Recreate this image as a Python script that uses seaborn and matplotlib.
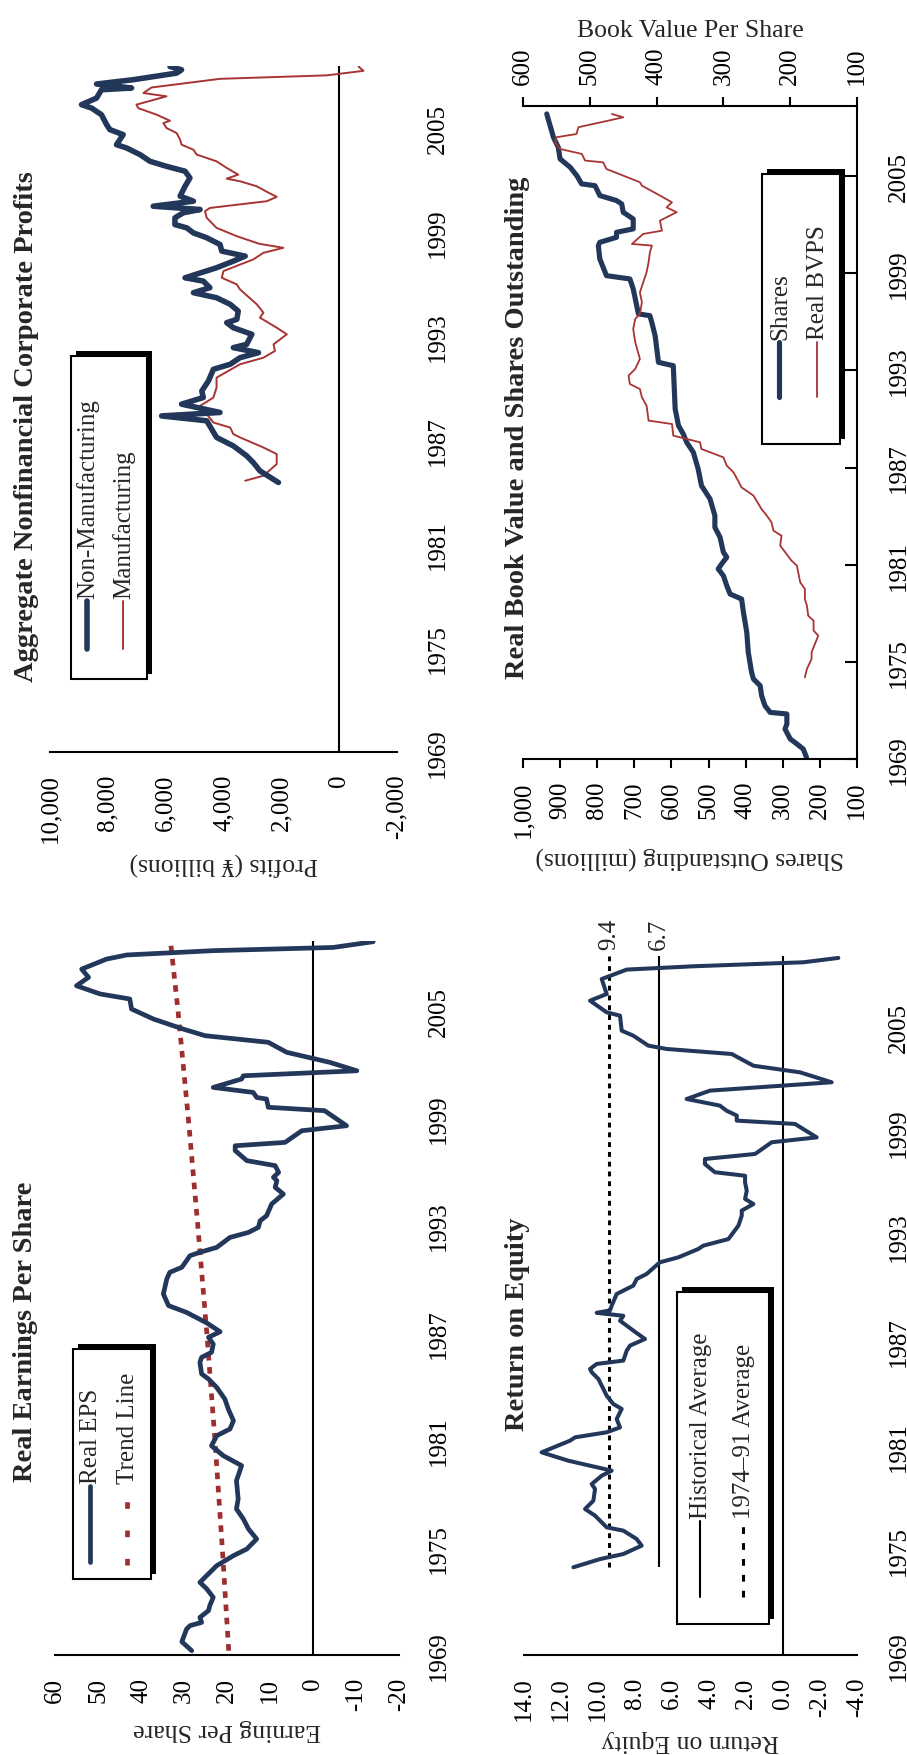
import matplotlib
matplotlib.use("Agg")
import matplotlib.pyplot as plt
import seaborn as sns
from matplotlib.patches import Rectangle
from matplotlib.lines import Line2D

# ---------------- data ----------------
year_ticks = [1969, 1975, 1981, 1987, 1993, 1999, 2005]

# Aggregate nonfinancial corporate profits (yen billions)
nonmfg_years = [1984.55, 1985.22, 1985.70, 1986.09, 1986.66, 1987.15, 1988.11, 1988.39, 1988.59, 1989.07,
                1989.45, 1989.83, 1990.41, 1991.08, 1991.37, 1991.75, 1992.04, 1992.33, 1992.52, 1993.10,
                1993.48, 1993.77, 1993.96, 1994.44, 1994.83, 1995.21, 1995.50, 1995.79, 1996.17, 1996.36,
                1996.94, 1997.32, 1997.61, 1997.90, 1998.28, 1998.67, 1998.95, 1999.24, 1999.43, 1999.82,
                2000.11, 2000.30, 2000.49, 2000.78, 2001.07, 2001.64, 2002.12, 2002.51, 2002.79, 2003.08,
                2003.47, 2003.85, 2004.04, 2004.62, 2004.91, 2005.19, 2005.77, 2006.15, 2006.35, 2006.73,
                2007.21, 2007.31, 2007.54, 2007.79, 2008.17, 2008.36, 2008.55]
nonmfg_vals = [2100, 2740, 2970, 3200, 3660, 4240, 4580, 6140, 4120, 5450,
               4700, 4750, 4520, 4350, 3770, 3430, 2790, 3660, 3200, 3020,
               3660, 3890, 3540, 3490, 3770, 4240, 5040, 4470, 4700, 5330,
               4240, 3660, 3250, 4060, 4120, 4580, 5040, 5270, 5680, 5680,
               5390, 4810, 6430, 5040, 5500, 5330, 5160, 5330, 5970, 6540,
               6890, 7350, 7700, 7470, 7930, 8040, 8220, 8560, 8910, 8390,
               8220, 7180, 8390, 7120, 5620, 5450, 5850]
mfg_years = [1984.65, 1984.94, 1985.61, 1986.19, 1986.57, 1987.15, 1987.34, 1987.72, 1988.01, 1988.49,
             1988.97, 1989.45, 1990.03, 1990.60, 1991.37, 1991.75, 1992.14, 1992.52, 1993.10, 1993.48,
             1994.06, 1994.35, 1994.83, 1995.69, 1995.98, 1996.36, 1996.75, 1997.42, 1997.80, 1998.09,
             1998.32, 1998.76, 1999.24, 1999.82, 2000.20, 2000.39, 2000.78, 2001.03, 2001.32, 2001.64,
             2001.93, 2002.08, 2002.31, 2002.70, 2003.08, 2003.47, 2003.75, 2004.04, 2004.33, 2004.71,
             2005.00, 2005.29, 2005.42, 2005.77, 2006.15, 2006.35, 2006.83, 2007.02, 2007.34, 2007.84,
             2008.04, 2008.30, 2008.55]
mfg_vals = [3250, 2620, 2160, 2160, 2620, 3430, 3660, 3770, 4350, 4580,
            4810, 4350, 4240, 4240, 3430, 2620, 2220, 2270, 1810, 2160,
            2740, 2620, 2850, 3430, 3540, 4060, 4000, 2970, 2620, 1930,
            2760, 3540, 4240, 4580, 4640, 4470, 2500, 2160, 2500, 2850,
            3430, 3890, 3490, 3890, 4240, 4930, 5040, 5450, 5500, 5620,
            5970, 6080, 5850, 6310, 6950, 7010, 5970, 6770, 6490, 4120,
            430, -840, -670]

# Real book value per share and shares outstanding
shares_years = [1969.10, 1969.62, 1969.93, 1970.24, 1970.85, 1971.16, 1971.78, 1971.88, 1972.29, 1972.91,
                1973.53, 1973.94, 1974.35, 1975.59, 1976.82, 1978.06, 1978.88, 1979.19, 1979.71, 1980.32,
                1980.74, 1981.04, 1981.46, 1981.77, 1982.69, 1983.31, 1984.03, 1985.06, 1985.88, 1986.91,
                1987.94, 1988.56, 1989.07, 1989.59, 1990.62, 1993.29, 1993.50, 1995.15, 1995.97, 1996.38,
                1996.49, 1998.03, 1998.65, 1998.85, 1999.88, 2000.71, 2000.91, 2001.22, 2001.53, 2001.74,
                2002.35, 2002.77, 2003.28, 2003.49, 2003.80, 2004.41, 2004.52, 2005.03, 2005.55, 2006.06,
                2006.78, 2007.40, 2008.12, 2008.84]
shares_vals = [236, 245, 262, 280, 294, 289, 289, 334, 348, 357,
               361, 379, 384, 393, 397, 406, 411, 442, 451, 460,
               474, 465, 451, 460, 469, 483, 483, 496, 519, 528,
               541, 559, 568, 581, 590, 595, 635, 644, 653, 658,
               689, 703, 712, 775, 793, 797, 793, 748, 748, 703,
               703, 730, 734, 748, 793, 806, 842, 855, 873, 900,
               905, 918, 927, 936]
bvps_years = [1974.04, 1974.56, 1975.18, 1975.59, 1976.62, 1976.93, 1977.54, 1977.85, 1978.47, 1978.88,
              1979.50, 1979.91, 1980.94, 1981.25, 1982.18, 1982.79, 1983.10, 1983.62, 1984.03, 1984.44,
              1985.27, 1985.78, 1986.19, 1986.71, 1987.12, 1987.63, 1988.15, 1988.56,
              1988.97, 1989.69, 1989.90, 1990.82, 1991.34, 1991.85, 1992.16, 1992.68, 1993.09, 1993.71,
              1994.74, 1995.56, 1996.18, 1996.49, 1997.21, 1997.82, 1998.44, 1999.06, 1999.68, 2000.30,
              2000.71, 2000.81, 2001.43, 2001.63, 2002.25, 2002.77, 2003.07, 2003.38, 2003.80, 2004.41,
              2004.62, 2005.44, 2005.85, 2005.96, 2006.37, 2006.68, 2007.09, 2007.40, 2007.60, 2008.02,
              2008.63, 2008.84]
bvps_vals = [178, 175, 168, 168, 158, 165, 165, 173, 175, 178,
             178, 185, 190, 198, 215, 213, 225, 228, 235, 243,
             255, 273, 278, 285, 295, 300, 333, 335,
             375, 377, 412, 415, 422, 425, 440, 442, 432, 425,
             432, 435, 432, 425, 422, 425, 420, 415, 412, 410,
             407, 437, 420, 392, 395, 370, 385, 377, 395, 422,
             425, 475, 480, 507, 512, 545, 552, 550, 520, 517,
             450, 467]

# Real earnings per share
eps_years = [1969.24, 1969.74, 1970.45, 1970.64, 1970.82, 1971.10, 1971.48, 1971.76, 1972.22, 1972.69,
             1973.06, 1973.99, 1974.55, 1974.92, 1975.48, 1976.04, 1976.60, 1977.16, 1977.72, 1978.74,
             1979.58, 1980.14, 1980.69, 1981.25, 1981.63, 1982.09, 1982.74, 1983.30, 1983.95, 1984.42,
             1984.70, 1985.35, 1985.63, 1985.91, 1986.37, 1986.75, 1987.06, 1987.55, 1988.14, 1988.52,
             1989.17, 1990.01, 1990.38, 1990.66, 1991.31, 1991.50, 1991.77, 1992.33, 1992.61, 1992.89,
             1993.26, 1993.54, 1994.20, 1994.75, 1995.13, 1995.50, 1995.69, 1995.96, 1996.34, 1996.62,
             1997.18, 1997.45, 1997.64, 1998.29, 1998.57, 1999.41, 1999.60, 2000.06, 2000.15, 2000.43,
             2000.71, 2001.18, 2001.36, 2001.64, 2002.11, 2002.67, 2003.23, 2003.60, 2003.97, 2004.53,
             2005.09, 2005.65, 2005.93, 2006.39, 2006.86, 2007.32, 2007.88, 2008.11, 2008.35, 2008.53,
             2008.85]
eps_vals = [28.2, 30.5, 29.4, 28.6, 25.9, 26.3, 24.3, 24.0, 23.2, 24.7,
            26.3, 22.4, 18.5, 15.4, 13.1, 15.0, 16.2, 17.8, 17.4, 17.8,
            16.6, 20.9, 23.6, 22.4, 19.3, 18.5, 19.7, 20.5, 22.4, 24.3,
            25.9, 26.3, 25.9, 23.6, 23.2, 24.3, 21.6, 24.7, 29.4, 33.6,
            34.8, 34.0, 33.3, 30.5, 28.6, 26.3, 22.4, 19.3, 15.0, 12.7,
            12.3, 10.8, 9.6, 6.9, 8.8, 8.4, 9.2, 8.0, 8.8, 15.4,
            18.1, 18.1, 6.5, 2.6, -7.8, -2.7, 10.4, 10.8, 13.1, 13.9,
            23.2, 16.6, 16.2, -10.2, -3.9, 6.1, 10.4, 25.1, 30.2, 37.1,
            42.2, 42.6, 49.5, 55.0, 52.2, 53.8, 48.0, 43.3, 23.2, -4.7,
            -14.0]
trend_years = [1969.24, 1975.0, 1981.0, 1987.0, 1993.0, 1999.0, 2005.0, 2008.78]
trend_vals = [19.6, 21.1, 22.8, 24.7, 26.8, 29.0, 31.4, 33.1]

# Return on equity
roe_years = [1974.03, 1974.50, 1974.79, 1975.27, 1975.65, 1976.13, 1976.32, 1976.99, 1977.37, 1977.85,
             1978.52, 1978.80, 1979.28, 1979.57, 1980.14, 1980.62, 1981.29, 1981.48, 1981.77, 1982.05,
             1982.53, 1983.11, 1983.39, 1983.87, 1984.83, 1985.21, 1985.40, 1985.69, 1985.88, 1986.45,
             1986.74, 1987.12, 1987.60, 1988.17, 1988.45, 1988.62, 1988.76, 1989.03, 1989.70, 1990.18,
             1990.56, 1990.85, 1991.52, 1991.80, 1992.28, 1992.47, 1992.85, 1993.62, 1994.19, 1994.48,
             1994.86, 1995.15, 1995.62, 1996.10, 1996.48, 1996.68, 1997.15, 1997.44, 1997.73, 1998.40,
             1998.68, 1999.45, 1999.64, 1999.93, 2000.21, 2000.50, 2000.88, 2001.36, 2001.84, 2002.41,
             2002.79, 2003.46, 2003.75, 2003.94, 2004.51, 2004.80, 2005.66, 2005.85, 2006.52, 2006.90,
             2007.76, 2008.30, 2008.49, 2008.72, 2008.97]
roe_vals = [11.33, 9.89, 8.63, 7.64, 7.91, 8.63, 9.53, 10.16, 10.70, 10.25,
            10.16, 10.34, 9.80, 9.26, 11.60, 13.05, 11.51, 11.24, 9.53, 8.81,
            8.99, 8.72, 9.17, 9.53, 9.98, 10.34, 10.43, 10.07, 8.63, 8.45,
            8.27, 7.46, 8.09, 8.81, 8.63, 10.07, 9.35, 9.26, 8.99, 8.09,
            7.91, 7.37, 6.65, 5.66, 4.58, 4.31, 2.95, 2.41, 2.23, 2.23,
            1.60, 2.05, 1.96, 2.05, 2.05, 3.68, 4.22, 4.22, 1.51, 0.61,
            -1.82, -0.65, 2.50, 2.50, 3.05, 3.41, 5.21, 3.95, -2.63, -0.92,
            1.60, 2.77, 6.29, 7.28, 8.09, 8.72, 8.81, 9.53, 10.43, 9.53,
            9.80, 8.45, 4.85, -1.10, -2.99]
hist_avg = 6.7
sub_avg = 9.4
avg_start = 1974.03

# ---------------- style ----------------
sns.set_style("white")
plt.rcParams['font.family'] = ['Liberation Serif', 'DejaVu Serif']
plt.rcParams['axes.unicode_minus'] = False
plt.rcParams['lines.solid_joinstyle'] = 'round'
plt.rcParams['lines.solid_capstyle'] = 'round'
plt.rcParams['lines.dash_capstyle'] = 'butt'

NAVY = '#23375A'
RED = '#A83434'
DRED = '#9E2F2F'
FS = 18
TFS = 20.5

W, H = 907, 1756
fig = plt.figure(figsize=(W / 100, H / 100), dpi=100)
fig.patch.set_facecolor('white')


def box(l, t, r, b):
    return [l / W, 1 - b / H, (r - l) / W, (b - t) / H]


def fx(x):
    return x / W


def fy(y):
    return 1 - y / H


def spines(ax, visible):
    for name, s in ax.spines.items():
        s.set_visible(name in visible)
        s.set_linewidth(1.5)
        s.set_color('black')


def time_axis(ax, top, pad, ticks_in=False):
    ax.set_ylim(1969, top)
    ax.yaxis.tick_right()
    ax.set_yticks(year_ticks)
    ax.set_yticklabels([str(y) for y in year_ticks])
    if ticks_in:
        ax.tick_params(axis='y', right=True, left=False, direction='in', length=9, width=1.5,
                       pad=pad, labelsize=FS, labelrotation=90, colors='black')
    else:
        ax.tick_params(axis='y', right=True, left=False, length=0, pad=pad,
                       labelsize=FS, labelrotation=90, colors='black')
    for tl in ax.get_yticklabels():
        tl.set_va('center')
        tl.set_ha('left')
    ax.set_ylabel('')


def value_axis(ax, lim, ticks, fmt, label, labelpad=6, where='bottom'):
    ax.set_xlim(*lim)
    ax.set_xticks(ticks)
    ax.set_xticklabels([fmt(t) for t in ticks])
    ax.tick_params(axis='x', direction='out', length=6.5, width=1.5, pad=9,
                   labelsize=FS, labelrotation=90, colors='black')
    if where == 'bottom':
        ax.set_xlabel(label, fontsize=18.5, rotation=180, labelpad=labelpad)
    else:
        ax.set_xlabel(label, fontsize=18.5, labelpad=labelpad)


def legend_box(l, t, r, b, entries):
    fig.add_artist(Rectangle((fx(l + 5), fy(b - 5)), (r - l) / W, (b - t) / H,
                             transform=fig.transFigure, facecolor='black', edgecolor='black', lw=0))
    fig.add_artist(Rectangle((fx(l), fy(b)), (r - l) / W, (b - t) / H,
                             transform=fig.transFigure, facecolor='white', edgecolor='black', lw=1.5))
    for x, y0, y1, label, kw in entries:
        fig.add_artist(Line2D([fx(x), fx(x)], [fy(y0), fy(y1)], transform=fig.transFigure, **kw))
        fig.text(fx(x + 1), fy(y1 - 3), label, rotation=90, ha='center', va='bottom', fontsize=FS)


def title(x, y, s):
    fig.text(fx(x), fy(y), s, rotation=90, ha='center', va='center', fontsize=TFS, fontweight='bold')


thou = lambda v: f"{v:,.0f}"
intf = lambda v: f"{v:.0f}"
dec1 = lambda v: f"{v:.1f}"

# ---------------- profits panel ----------------
ax_p = fig.add_axes(box(50, 67, 397, 753))
ax_p.axvline(0, color='black', lw=1.5)
sns.lineplot(x=mfg_vals, y=mfg_years, orient='y', sort=False, estimator=None, color=RED, lw=1.4, ax=ax_p)
sns.lineplot(x=nonmfg_vals, y=nonmfg_years, orient='y', sort=False, estimator=None, color=NAVY, lw=4.0, ax=ax_p)
spines(ax_p, ['bottom'])
value_axis(ax_p, (10000, -2000), [-2000, 0, 2000, 4000, 6000, 8000, 10000], thou, 'Profits (¥ billions)')
time_axis(ax_p, 2008.58, 21.5)
title(27, 427, 'Aggregate Nonfinancial Corporate Profits')
legend_box(71, 357, 147, 680, [
    (87, 650, 602, 'Non-Manufacturing', dict(color=NAVY, lw=4.0, solid_capstyle='round')),
    (123, 650, 602, 'Manufacturing', dict(color=RED, lw=1.4)),
])

# ---------------- book value / shares panel ----------------
ax_b = fig.add_axes(box(523, 107, 857, 760))
ax_b2 = ax_b.twiny()
sns.lineplot(x=shares_vals, y=shares_years, orient='y', sort=False, estimator=None, color=NAVY, lw=3.7, ax=ax_b)
sns.lineplot(x=bvps_vals, y=bvps_years, orient='y', sort=False, estimator=None, color=RED, lw=1.3, ax=ax_b2)
spines(ax_b, ['bottom', 'right'])
spines(ax_b2, ['top'])
value_axis(ax_b, (1000, 100), list(range(100, 1001, 100)), thou, 'Shares Outstanding (millions)')
value_axis(ax_b2, (600, 100), list(range(100, 601, 100)), intf, 'Book Value Per Share', labelpad=8, where='top')
ax_b2.tick_params(axis='x', top=True, bottom=False)
time_axis(ax_b, 2009.33, 22, ticks_in=True)
ax_b2.set_ylim(1969, 2009.33)
title(518, 428, 'Real Book Value and Shares Outstanding')
legend_box(762, 175, 840, 445, [
    (779, 398, 343, 'Shares', dict(color=NAVY, lw=3.7, solid_capstyle='round')),
    (817, 398, 343, 'Real BVPS', dict(color=RED, lw=1.3)),
])

# ---------------- EPS panel ----------------
ax_e = fig.add_axes(box(55, 942, 399, 1656))
ax_e.axvline(0, color='black', lw=1.5)
sns.lineplot(x=trend_vals, y=trend_years, orient='y', sort=False, estimator=None, color=DRED, lw=3.4,
             linestyle=(0, (1.4, 1.4)), ax=ax_e)
sns.lineplot(x=eps_vals, y=eps_years, orient='y', sort=False, estimator=None, color=NAVY, lw=3.4, ax=ax_e)
spines(ax_e, ['bottom'])
value_axis(ax_e, (60, -20), list(range(-20, 61, 10)), intf, 'Earning Per Share')
time_axis(ax_e, 2008.89, 21)
title(26, 1332, 'Real Earnings Per Share')
legend_box(73, 1350, 151, 1580, [
    (90, 1563, 1487, 'Real EPS', dict(color=NAVY, lw=3.4, solid_capstyle='round')),
    (127, 1566, 1487, 'Trend Line', dict(color=DRED, lw=3.4, linestyle=(0, (1.4, 4.6)))),
])

# ---------------- ROE panel ----------------
ax_r = fig.add_axes(box(524, 957, 857, 1656))
ax_r.axvline(0, color='black', lw=1.5)
ax_r.vlines(hist_avg, avg_start, 2009.08, color='black', lw=1.5)
ax_r.vlines(sub_avg, avg_start, 2009.08, color='black', lw=2.2, linestyles=[(0, (1.6, 1.6))])
sns.lineplot(x=roe_vals, y=roe_years, orient='y', sort=False, estimator=None, color=NAVY, lw=2.9, ax=ax_r)
spines(ax_r, ['bottom'])
value_axis(ax_r, (14, -4), [-4, -2, 0, 2, 4, 6, 8, 10, 12, 14], dec1, 'Return on Equity')
time_axis(ax_r, 2009.08, 22.5)
for v in (sub_avg, hist_avg):
    ax_r.annotate(f"{v:.1f}", xy=(v, 1), xycoords=('data', 'axes fraction'), xytext=(0, 5),
                  textcoords='offset points', rotation=90, ha='center', va='bottom', fontsize=FS)
title(518, 1324, 'Return on Equity')
legend_box(677, 1293, 769, 1625, [
    (700, 1598, 1522, 'Historical Average', dict(color='black', lw=1.5)),
    (743, 1598, 1522, '1974\u201391 Average', dict(color='black', lw=2.2, linestyle=(0, (2.2, 3.0)))),
])

fig.savefig('out.png', dpi=100, facecolor='white')
